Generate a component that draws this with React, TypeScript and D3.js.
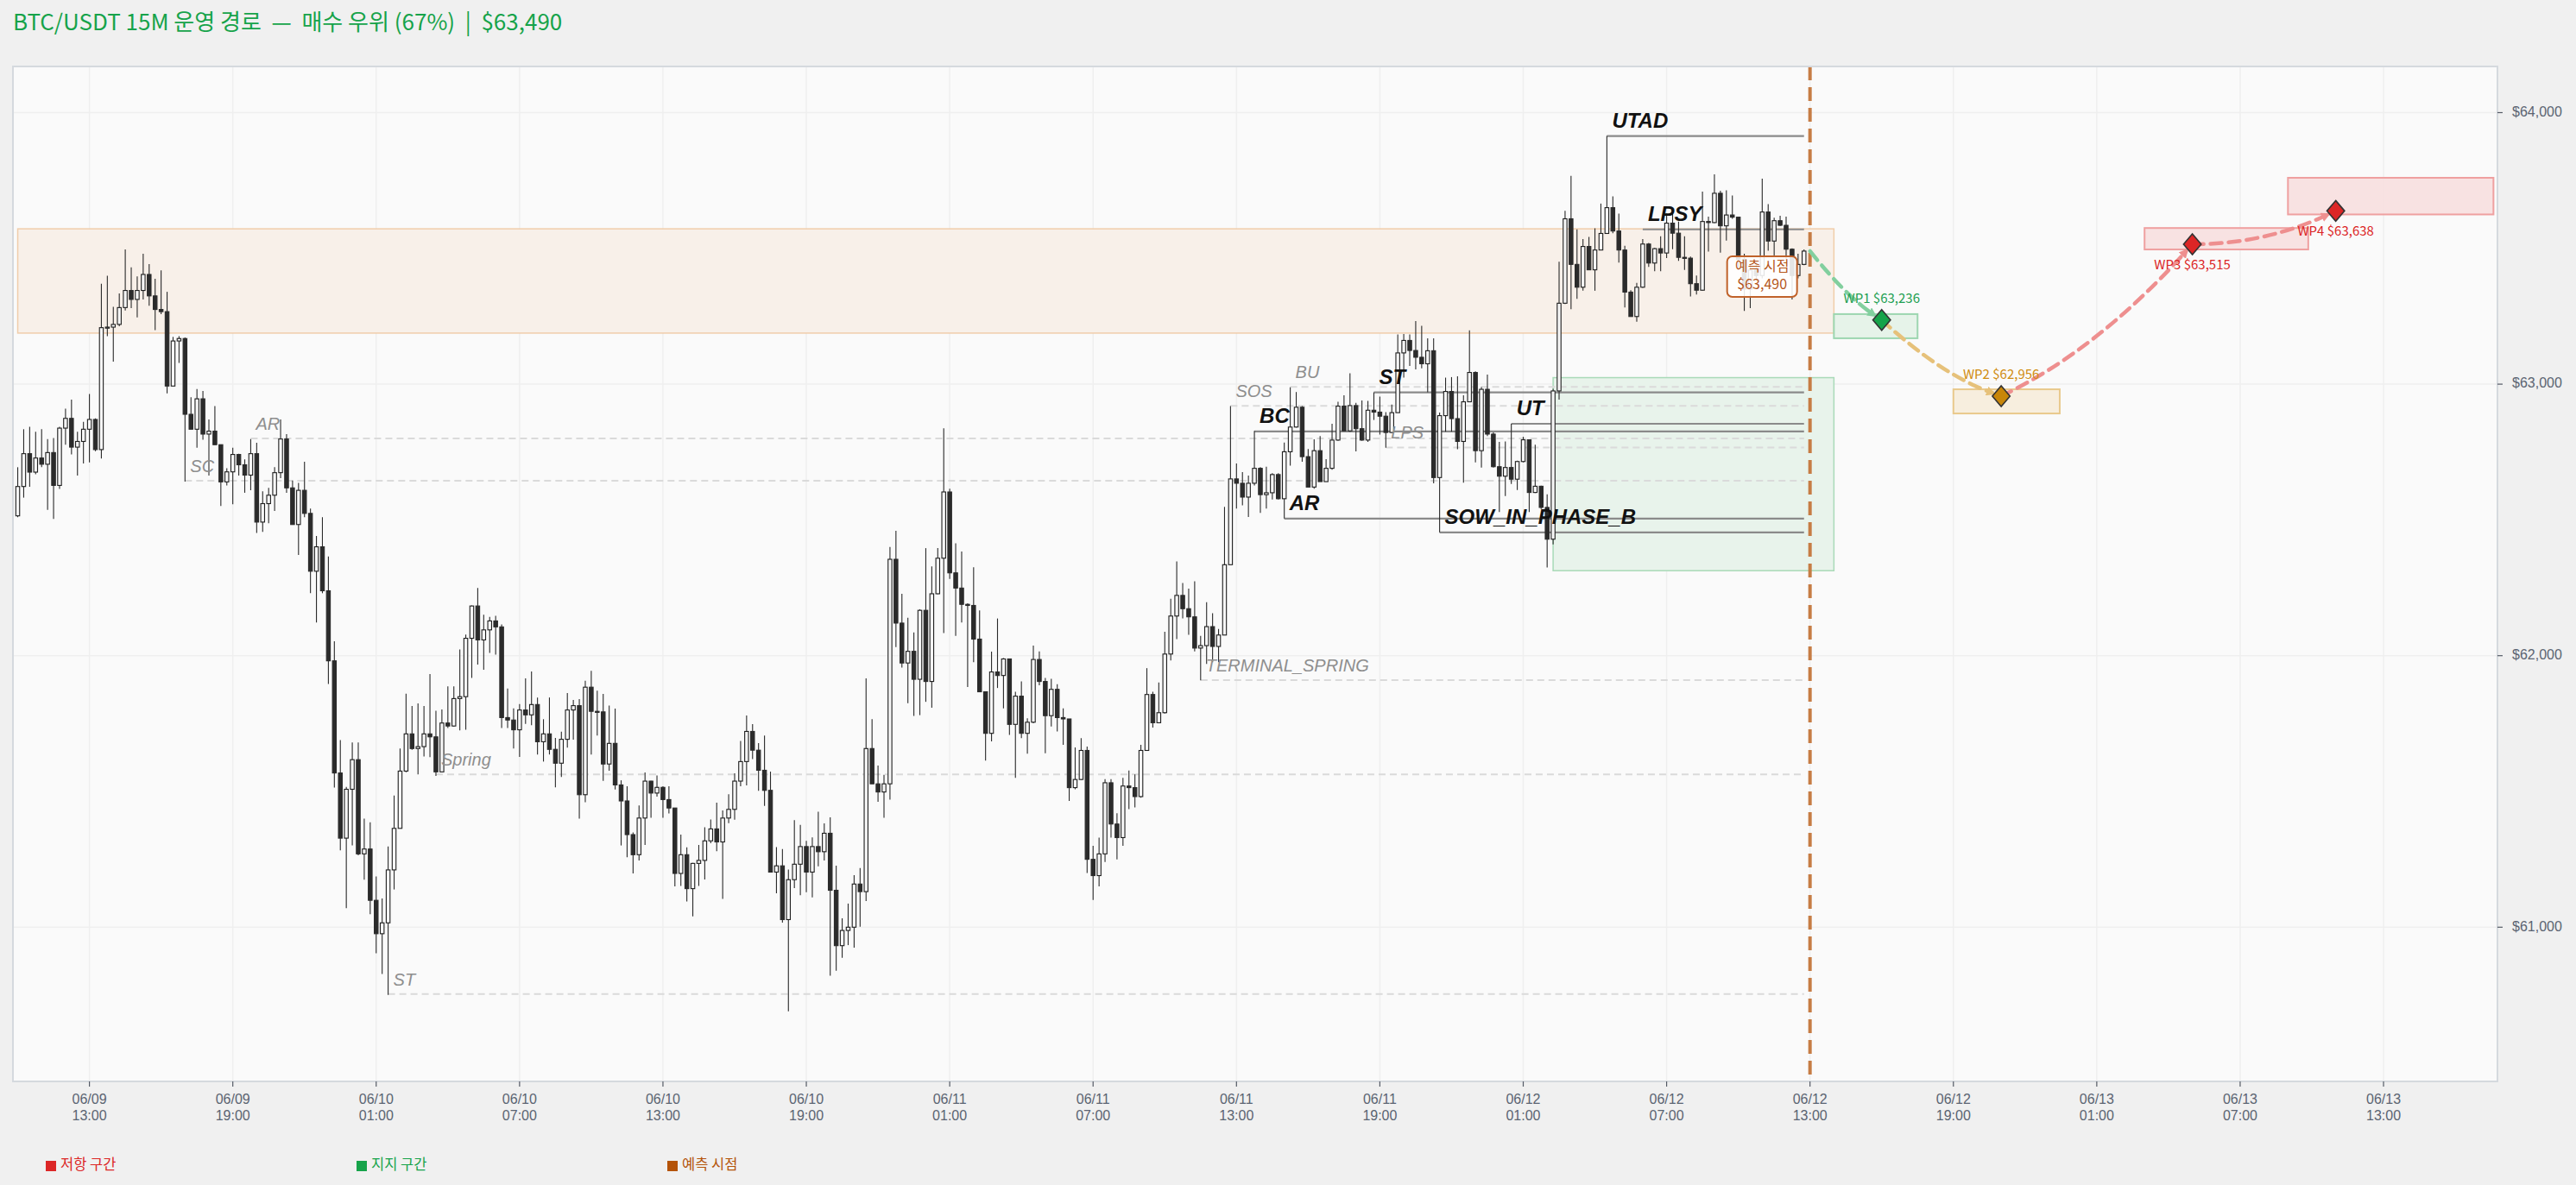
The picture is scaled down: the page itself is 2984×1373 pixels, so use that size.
import * as d3 from 'd3';
import { useEffect } from 'react';

const WIDTH = 2984;
const HEIGHT = 1373;
const plot = { left: 15, top: 77, right: 2893, bottom: 1253 };

const titleText = 'BTC/USDT 15M 운영 경로  —  매수 우위 (67%)  |  $63,490';

const firstCandle = '2024-06-09T10:00:00Z';
const nowTime = '2024-06-12T13:00:00Z';
const xDomain = ['2024-06-09T09:48:00Z', '2024-06-13T17:46:00Z'];
const yDomain = [60432, 64170];
const yTicks = [61000, 62000, 63000, 64000];
const xTicks = [
  '2024-06-09T13:00:00Z', '2024-06-09T19:00:00Z', '2024-06-10T01:00:00Z', '2024-06-10T07:00:00Z',
  '2024-06-10T13:00:00Z', '2024-06-10T19:00:00Z', '2024-06-11T01:00:00Z', '2024-06-11T07:00:00Z',
  '2024-06-11T13:00:00Z', '2024-06-11T19:00:00Z', '2024-06-12T01:00:00Z', '2024-06-12T07:00:00Z',
  '2024-06-12T13:00:00Z', '2024-06-12T19:00:00Z', '2024-06-13T01:00:00Z', '2024-06-13T07:00:00Z',
  '2024-06-13T13:00:00Z',
];

// 15m candles, open = previous close
const firstOpen = 62515;
const closes = [
  62623, 62744, 62676, 62728, 62705, 62748, 62627, 62838, 62874, 62768,
  62789, 62834, 62870, 62759, 63208, 63210, 63220, 63282, 63345, 63312,
  63345, 63404, 63325, 63275, 63267, 62993, 63159, 63168, 62889, 62834,
  62946, 62816, 62827, 62777, 62640, 62677, 62741, 62703, 62665, 62744,
  62492, 62560, 62591, 62674, 62798, 62618, 62483, 62609, 62524, 62311,
  62401, 62239, 61981, 61568, 61328, 61508, 61617, 61270, 61288, 61099,
  60976, 61016, 61211, 61364, 61575, 61712, 61658, 61665, 61712, 61701,
  61572, 61752, 61741, 61842, 61849, 62064, 62183, 62058, 62095, 62128,
  62106, 61772, 61763, 61727, 61800, 61782, 61820, 61683, 61712, 61655,
  61604, 61692, 61800, 61816, 61488, 61884, 61795, 61793, 61601, 61677,
  61524, 61465, 61341, 61267, 61402, 61538, 61494, 61515, 61470, 61439,
  61198, 61267, 61142, 61235, 61246, 61318, 61362, 61314, 61402, 61434,
  61538, 61610, 61721, 61652, 61578, 61504, 61203, 61226, 61028, 61175,
  61232, 61297, 61203, 61297, 61278, 61346, 61136, 60932, 60988, 61000,
  61159, 61131, 61658, 61528, 61498, 61528, 62355, 62120, 61973, 62016,
  61913, 62167, 61905, 62228, 62359, 62603, 62305, 62249, 62189, 62185,
  62061, 61867, 61714, 61940, 61927, 61988, 61747, 61851, 61714, 61755,
  61986, 61905, 61779, 61876, 61772, 61767, 61514, 61544, 61651, 61250,
  61190, 61270, 61532, 61380, 61330, 61520, 61514, 61481, 61651, 61857,
  61753, 61790, 62006, 62146, 62222, 62173, 62143, 62028, 62037, 62107,
  62034, 62076, 62335, 62651, 62635, 62584, 62635, 62690, 62593, 62600,
  62667, 62578, 62751, 62842, 62915, 62733, 62621, 62755, 62641, 62690,
  62794, 62919, 62828, 62921, 62836, 62794, 62904, 62897, 62882, 62822,
  62895, 63115, 63161, 63124, 63099, 63075, 63123, 62656, 62884, 62973,
  62873, 62789, 62935, 63043, 62755, 62981, 62816, 62696, 62661, 62693,
  62650, 62715, 62795, 62601, 62624, 62546, 62429, 62975, 63298, 63609,
  63441, 63357, 63507, 63421, 63494, 63555, 63650, 63564, 63494, 63339,
  63249, 63357, 63516, 63446, 63499, 63483, 63593, 63556, 63467, 63464,
  63370, 63346, 63599, 63595, 63703, 63583, 63623, 63615, 63460, 63350,
  63420, 63400, 63634, 63527, 63602, 63585, 63497, 63400, 63441, 63490,
];
const highs = [
  62694, 62834, 62843, 62825, 62834, 62798, 62802, 62843, 62910, 62943,
  62825, 62861, 62964, 62874, 63370, 63399, 63285, 63334, 63496, 63430,
  63397, 63480, 63442, 63388, 63419, 63340, 63174, 63177, 63172, 62952,
  62982, 62975, 62870, 62919, 62777, 62690, 62766, 62744, 62723, 62798,
  62784, 62605, 62618, 62694, 62870, 62816, 62645, 62636, 62714, 62542,
  62441, 62510, 62365, 62053, 61689, 61517, 61680, 61680, 61400, 61386,
  61187, 61106, 61297, 61485, 61658, 61860, 61815, 61824, 61815, 61932,
  61797, 61802, 61887, 61887, 62023, 62078, 62185, 62249, 62151, 62143,
  62147, 62115, 61879, 61806, 61822, 61916, 61942, 61846, 61766, 61846,
  61697, 61720, 61862, 61837, 61840, 61908, 61944, 61871, 61859, 61816,
  61805, 61541, 61519, 61349, 61448, 61570, 61539, 61559, 61519, 61519,
  61439, 61341, 61294, 61237, 61303, 61368, 61397, 61459, 61430, 61490,
  61567, 61686, 61780, 61748, 61678, 61706, 61573, 61295, 61288, 61212,
  61394, 61377, 61318, 61331, 61425, 61382, 61405, 61227, 61033, 61087,
  61192, 61218, 61916, 61766, 61595, 61561, 62400, 62460, 62228, 62140,
  62086, 62171, 62396, 62329, 62396, 62837, 62615, 62414, 62384, 62193,
  62326, 62167, 61867, 62015, 62137, 61991, 61988, 61867, 61905, 61769,
  62037, 62016, 61918, 61915, 61895, 61806, 61767, 61662, 61696, 61665,
  61300, 61330, 61545, 61545, 61420, 61550, 61577, 61563, 61672, 61954,
  61867, 61901, 62088, 62210, 62347, 62268, 62247, 62274, 62073, 62197,
  62156, 62098, 62548, 62919, 62708, 62676, 62663, 62828, 62694, 62696,
  62672, 62672, 62785, 62988, 62971, 62919, 62761, 62797, 62809, 62724,
  62854, 62935, 62959, 63040, 62931, 62940, 62938, 62970, 62954, 62897,
  62925, 63183, 63185, 63183, 63232, 63215, 63169, 63169, 62895, 63024,
  63026, 63029, 62959, 63198, 63047, 62989, 63035, 62822, 62787, 62789,
  62854, 62718, 62806, 62795, 62777, 62626, 62594, 62983, 63451, 63638,
  63767, 63570, 63534, 63542, 63574, 63665, 63914, 63692, 63628, 63510,
  63346, 63373, 63534, 63520, 63502, 63545, 63628, 63631, 63599, 63545,
  63470, 63400, 63709, 63617, 63773, 63712, 63714, 63695, 63615, 63480,
  63440, 63450, 63757, 63663, 63613, 63620, 63617, 63500, 63480, 63496,
];
const lows = [
  62510, 62582, 62622, 62668, 62694, 62537, 62504, 62614, 62777, 62741,
  62663, 62708, 62712, 62753, 62726, 63177, 63083, 63213, 63271, 63280,
  63246, 63312, 63289, 63199, 63258, 62966, 62993, 63078, 62641, 62834,
  62766, 62795, 62663, 62777, 62551, 62627, 62558, 62663, 62600, 62609,
  62452, 62456, 62488, 62533, 62654, 62600, 62483, 62371, 62510, 62230,
  62122, 62230, 61896, 61514, 61283, 61070, 61301, 61265, 61175, 61048,
  60904, 60828, 60751, 61139, 61364, 61571, 61653, 61563, 61629, 61626,
  61557, 61572, 61734, 61738, 61725, 61727, 61918, 61967, 61948, 62010,
  62004, 61734, 61734, 61658, 61627, 61749, 61744, 61636, 61610, 61636,
  61515, 61553, 61661, 61691, 61400, 61460, 61636, 61706, 61539, 61576,
  61507, 61301, 61258, 61198, 61246, 61303, 61403, 61481, 61403, 61419,
  61150, 61152, 61095, 61040, 61152, 61176, 61309, 61280, 61104, 61383,
  61396, 61519, 61522, 61619, 61502, 61447, 61203, 61125, 61017, 60690,
  61144, 61118, 61129, 61110, 61224, 61246, 60821, 60840, 60887, 60934,
  60925, 61002, 61096, 61528, 61462, 61403, 61470, 62032, 61956, 61825,
  61778, 61781, 61830, 61808, 62226, 62083, 62283, 62073, 62122, 61885,
  61976, 61867, 61614, 61684, 61881, 61806, 61708, 61550, 61696, 61639,
  61751, 61891, 61641, 61739, 61721, 61672, 61465, 61508, 61542, 61200,
  61100, 61150, 61240, 61330, 61250, 61300, 61435, 61441, 61477, 61651,
  61735, 61751, 61787, 61982, 62061, 62137, 62077, 62016, 61909, 61970,
  61976, 61976, 62076, 62335, 62542, 62554, 62511, 62627, 62526, 62542,
  62575, 62575, 62505, 62700, 62840, 62714, 62621, 62615, 62641, 62641,
  62685, 62791, 62828, 62825, 62752, 62791, 62787, 62868, 62814, 62766,
  62820, 62895, 63024, 63067, 63054, 63058, 62970, 62635, 62454, 62825,
  62825, 62760, 62637, 62935, 62712, 62693, 62809, 62693, 62529, 62588,
  62632, 62610, 62712, 62529, 62599, 62540, 62325, 62410, 62943, 63295,
  63276, 63314, 63344, 63421, 63344, 63494, 63553, 63556, 63448, 63282,
  63249, 63230, 63355, 63432, 63416, 63416, 63464, 63497, 63454, 63421,
  63323, 63330, 63344, 63488, 63593, 63484, 63529, 63609, 63420, 63270,
  63280, 63380, 63390, 63491, 63470, 63583, 63460, 63312, 63390, 63438,
];

// wyckoff events: label, candle index, price, major?
const eventLabels = ['SC', 'AR', 'ST', 'Spring', 'TERMINAL_SPRING', 'SOS', 'BC', 'AR', 'BU', 'ST', 'LPS', 'SOW_IN_PHASE_B', 'UT', 'UTAD', 'LPSY'];
const eventIndex = [28, 39, 62, 70, 198, 203, 207, 212, 213, 227, 229, 238, 250, 266, 272];
const eventPrice = [62644, 62800, 60754, 61563, 61910, 62920, 62826, 62505, 62990, 62970, 62767, 62454, 62854, 63914, 63570];
const eventMajor = [false, false, false, false, false, false, true, true, false, true, false, true, true, true, true];

// zones: [start candle index, hours after now, low, high]
const resistanceZone = [0, 1, 63188, 63572];
const supportZone = [257, 1, 62313, 63024];

// forecast waypoints
const lastPrice = 63490;
const wpNames = ['WP1', 'WP2', 'WP3', 'WP4'];
const wpHours = [3, 8, 16, 22];
const wpPrices = [63236, 62956, 63515, 63638];
const wpBoxHours = [[1, 4.5], [6, 10.45], [14, 20.85], [20, 28.6]];
const wpBoxPrices = [[63169, 63258], [62892, 62981], [63496, 63575], [63625, 63760]];
const wpKinds = ['support', 'neutral', 'resist', 'resist'];

const legendItems = ['저항 구간', '지지 구간', '예측 시점'];
const legendColors = ['#dc2626', '#16a34a', '#b45309'];

const kindStyle = {
  support: { fill: '#16a34a', text: '#22a052', line: '#82cf9e', box: '#e3f2e7', boxStroke: '#9dd6b0' },
  neutral: { fill: '#c8860a', text: '#d08c10', line: '#e6c17a', box: '#f6ecda', boxStroke: '#e9c98c' },
  resist: { fill: '#dc2626', text: '#dc2626', line: '#ee8f8f', box: '#f7dfdf', boxStroke: '#efa0a0' },
};

const HOUR = 3600 * 1000;

export default function App() {
  useEffect(() => {
    document.body.style.margin = '0';
    document.body.style.overflow = 'hidden';
  }, []);

  const x = d3.scaleUtc().domain(xDomain.map((d) => new Date(d))).range([plot.left, plot.right]);
  const y = d3.scaleLinear().domain(yDomain).range([plot.bottom, plot.top]);

  const t0 = new Date(firstCandle).getTime();
  const now = new Date(nowTime).getTime();
  const candleX = (i) => x(new Date(t0 + i * 15 * 60 * 1000));
  const futureX = (h) => x(new Date(now + h * HOUR));

  const candles = closes.map((c, i) => {
    const o = i === 0 ? firstOpen : closes[i - 1];
    return { i, o, c, h: Math.max(highs[i], o, c), l: Math.min(lows[i], o, c) };
  });

  const nowX = x(new Date(now));
  const lastIdx = closes.length - 1;
  const lineEndX = candleX(lastIdx);

  const fmtDate = d3.utcFormat('%m/%d');
  const fmtTime = d3.utcFormat('%H:%M');
  const fmtPrice = (v) => '$' + d3.format(',')(v);

  // forecast path points
  const pts = [[nowX, y(lastPrice)], ...wpHours.map((h, k) => [futureX(h), y(wpPrices[k])])];
  const bends = [0.65, 0.72, 0.3, 0.0];
  const segs = pts.slice(1).map((p1, k) => {
    const p0 = pts[k];
    const cx = p0[0] + (p1[0] - p0[0]) * 0.5;
    const cy = p0[1] + (p1[1] - p0[1]) * bends[k];
    const dx = p1[0] - cx;
    const dy = p1[1] - cy;
    const len = Math.hypot(dx, dy) || 1;
    const ex = p1[0] - (dx / len) * 11;
    const ey = p1[1] - (dy / len) * 11;
    const path = d3.path();
    path.moveTo(p0[0], p0[1]);
    path.quadraticCurveTo(cx, cy, ex, ey);
    return { d: path.toString(), kind: wpKinds[k] };
  });

  const labelFont = '"Liberation Sans", Arial, sans-serif';
  const cjkFont = '"Noto Sans CJK KR", "Noto Sans", sans-serif';

  return (
    <svg width={WIDTH} height={HEIGHT} style={{ display: 'block' }}>
      <defs>
        {Object.entries(kindStyle).map(([k, s]) => (
          <marker key={k} id={`arrow-${k}`} viewBox="0 0 10 10" refX="6" refY="5"
            markerWidth="11" markerHeight="11" markerUnits="userSpaceOnUse" orient="auto">
            <path d="M0,0 L10,5 L0,10 z" fill={s.line} />
          </marker>
        ))}
        <clipPath id="plot-clip">
          <rect x={plot.left} y={plot.top} width={plot.right - plot.left} height={plot.bottom - plot.top} />
        </clipPath>
      </defs>
      <rect x={0} y={0} width={WIDTH} height={HEIGHT} fill="#f0f0f0" />
      <text x={15} y={35} fontFamily={cjkFont} fontSize={26} fill="#16a34a" style={{ whiteSpace: 'pre' }}>
        {titleText}
      </text>

      <rect x={plot.left} y={plot.top} width={plot.right - plot.left} height={plot.bottom - plot.top}
        fill="#fafafa" />

      <g clipPath="url(#plot-clip)">
        {xTicks.map((t) => (
          <line key={t} x1={x(new Date(t))} x2={x(new Date(t))} y1={plot.top} y2={plot.bottom}
            stroke="#efefef" strokeWidth={1.5} />
        ))}
        {yTicks.map((v) => (
          <line key={v} x1={plot.left} x2={plot.right} y1={y(v)} y2={y(v)} stroke="#efefef" strokeWidth={1.5} />
        ))}

        {/* zones */}
        <rect x={candleX(resistanceZone[0])} y={y(resistanceZone[3])}
          width={futureX(resistanceZone[1]) - candleX(resistanceZone[0])}
          height={y(resistanceZone[2]) - y(resistanceZone[3])}
          fill="#f8f0e9" stroke="#f0cdaa" strokeWidth={1.5} />
        <rect x={candleX(supportZone[0])} y={y(supportZone[3])}
          width={futureX(supportZone[1]) - candleX(supportZone[0])}
          height={y(supportZone[2]) - y(supportZone[3])}
          fill="#e8f3eb" stroke="#a9dab8" strokeWidth={1.5} />

        {/* event level lines */}
        {eventLabels.map((lab, k) => (
          <line key={'l' + k} x1={candleX(eventIndex[k])} x2={lineEndX} y1={y(eventPrice[k])} y2={y(eventPrice[k])}
            stroke={eventMajor[k] ? '#8a8a8a' : '#dadada'} strokeWidth={eventMajor[k] ? 2.2 : 2}
            strokeDasharray={eventMajor[k] ? null : '8 5'} />
        ))}

        {/* candles */}
        {candles.map((d) => {
          const cx = candleX(d.i);
          const up = d.c >= d.o;
          const top = y(Math.max(d.o, d.c));
          const bh = Math.max(1.2, Math.abs(y(d.o) - y(d.c)));
          return (
            <g key={d.i}>
              <line x1={cx} x2={cx} y1={y(d.h)} y2={y(d.l)} stroke="#2a2a2a" strokeWidth={1.1} />
              <rect x={cx - 2.2} y={top} width={4.4} height={bh}
                fill={up ? '#f6f6f6' : '#2b2b2b'} stroke={up ? '#1f1f1f' : '#2b2b2b'} strokeWidth={1.1} />
            </g>
          );
        })}

        {/* event labels */}
        {eventLabels.map((lab, k) => (
          <text key={'t' + k} x={candleX(eventIndex[k]) + 6} y={y(eventPrice[k]) - 10}
            fontFamily={labelFont} fontStyle="italic"
            fontWeight={eventMajor[k] ? 'bold' : 'normal'}
            fontSize={eventMajor[k] ? 24 : 20}
            fill={eventMajor[k] ? '#111111' : '#8e8e8e'}>
            {lab}
          </text>
        ))}

        {/* prediction time line */}
        <line x1={nowX} x2={nowX} y1={plot.top} y2={plot.bottom} stroke="#c67c44" strokeWidth={4}
          strokeDasharray="16 8" />

        {/* waypoint boxes */}
        {wpNames.map((n, k) => {
          const s = kindStyle[wpKinds[k]];
          const x0 = futureX(wpBoxHours[k][0]);
          const x1 = futureX(wpBoxHours[k][1]);
          return (
            <rect key={'b' + n} x={x0} y={y(wpBoxPrices[k][1])} width={x1 - x0}
              height={y(wpBoxPrices[k][0]) - y(wpBoxPrices[k][1])}
              fill={s.box} fillOpacity={0.9} stroke={s.boxStroke} strokeWidth={2} />
          );
        })}

        {/* forecast path */}
        {segs.map((s, k) => (
          <path key={'p' + k} d={s.d} fill="none" stroke={kindStyle[s.kind].line} strokeWidth={4.5}
            strokeDasharray="13 8" strokeLinecap="round" markerEnd={`url(#arrow-${s.kind})`} />
        ))}

        {/* waypoint diamonds + labels */}
        {wpNames.map((n, k) => {
          const s = kindStyle[wpKinds[k]];
          const px = futureX(wpHours[k]);
          const py = y(wpPrices[k]);
          const prev = k === 0 ? lastPrice : wpPrices[k - 1];
          const above = wpPrices[k] < prev;
          const r = 12;
          return (
            <g key={'w' + n}>
              <path d={`M${px},${py - r} L${px + r * 0.85},${py} L${px},${py + r} L${px - r * 0.85},${py} Z`}
                fill={s.fill} stroke="#333333" strokeWidth={1.6} />
              <text x={px} y={above ? py - 24 : py + 25} textAnchor="middle" dominantBaseline="middle"
                fontFamily={cjkFont} fontSize={15} fill={s.text}>
                {`${n} ${fmtPrice(wpPrices[k])}`}
              </text>
            </g>
          );
        })}

        {/* prediction label */}
        <g>
          <rect x={nowX - 96} y={y(lastPrice) + 6} width={81} height={47} rx={6}
            fill="#ffffff" fillOpacity={0.88} stroke="#c0622a" strokeWidth={2} />
          <text x={nowX - 55.5} y={y(lastPrice) + 19} textAnchor="middle" dominantBaseline="middle"
            fontFamily={cjkFont} fontSize={16} fill="#b5561c">예측 시점</text>
          <text x={nowX - 55.5} y={y(lastPrice) + 40} textAnchor="middle" dominantBaseline="middle"
            fontFamily={cjkFont} fontSize={16} fill="#b5561c">{fmtPrice(lastPrice)}</text>
        </g>
      </g>

      <rect x={plot.left} y={plot.top} width={plot.right - plot.left} height={plot.bottom - plot.top}
        fill="none" stroke="#d5d9de" strokeWidth={2} />

      {/* x axis */}
      {xTicks.map((t) => {
        const d = new Date(t);
        const tx = x(d);
        return (
          <g key={'xt' + t}>
            <line x1={tx} x2={tx} y1={plot.bottom} y2={plot.bottom + 6} stroke="#555b66" strokeWidth={1.2} />
            <text x={tx} y={plot.bottom + 22} textAnchor="middle" dominantBaseline="middle"
              fontFamily={labelFont} fontSize={16} fill="#5b6472">{fmtDate(d)}</text>
            <text x={tx} y={plot.bottom + 41} textAnchor="middle" dominantBaseline="middle"
              fontFamily={labelFont} fontSize={16} fill="#5b6472">{fmtTime(d)}</text>
          </g>
        );
      })}

      {/* y axis */}
      {yTicks.map((v) => (
        <g key={'yt' + v}>
          <line x1={plot.right} x2={plot.right + 6} y1={y(v)} y2={y(v)} stroke="#555b66" strokeWidth={1.2} />
          <text x={plot.right + 17} y={y(v)} dominantBaseline="middle"
            fontFamily={labelFont} fontSize={16} fill="#5b6472">{fmtPrice(v)}</text>
        </g>
      ))}

      {/* legend */}
      {legendItems.map((item, k) => (
        <g key={item} transform={`translate(${53 + k * 360}, 1351)`}>
          <rect x={0} y={-6} width={12} height={12} fill={legendColors[k]} />
          <text x={17} y={0} dominantBaseline="middle" fontFamily={cjkFont} fontSize={16.5}
            fill={legendColors[k]}>{item}</text>
        </g>
      ))}
    </svg>
  );
}
